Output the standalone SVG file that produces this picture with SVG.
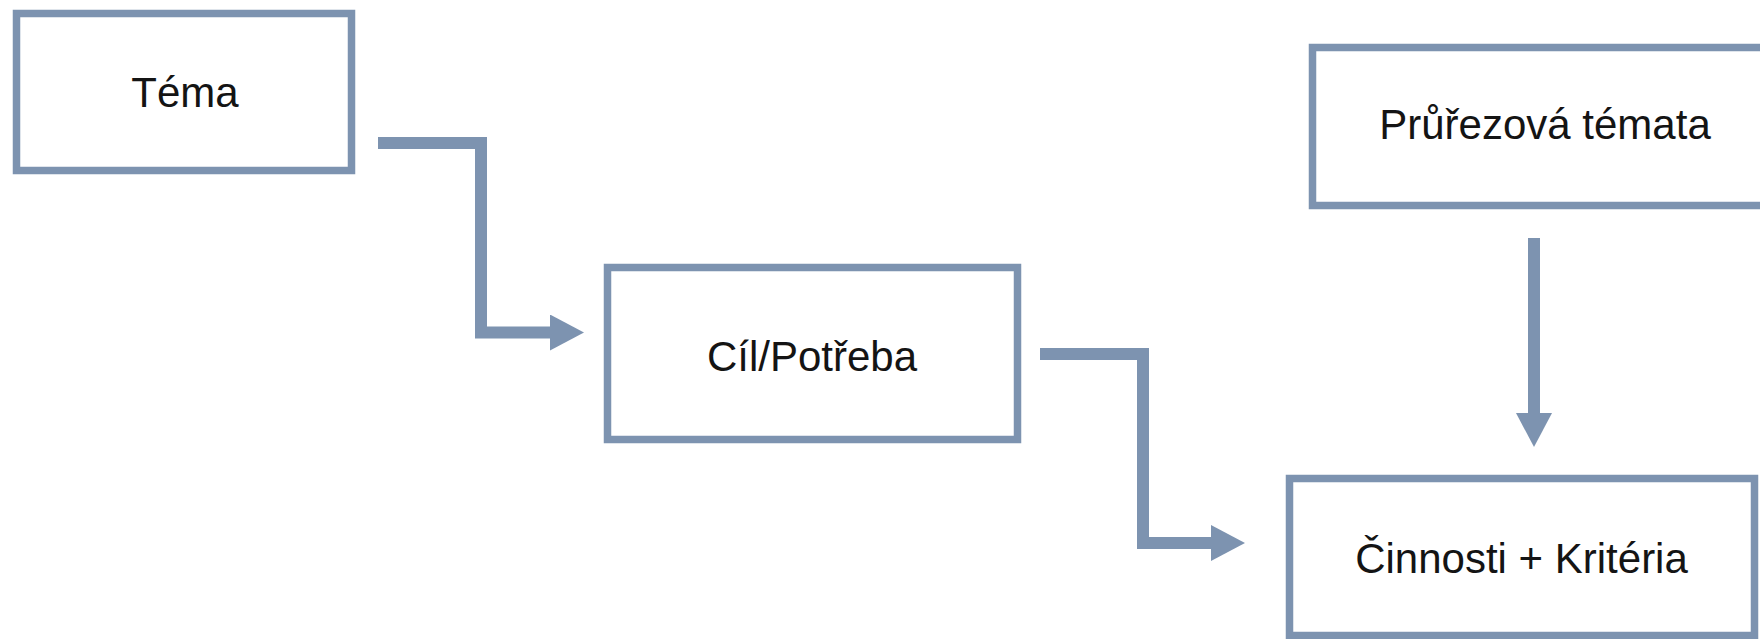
<svg xmlns="http://www.w3.org/2000/svg" width="1760" height="639" viewBox="0 0 1760 639">
  <defs>
    <style>
      .box { fill: #ffffff; stroke: #7d93b0; stroke-width: 7.5; }
      .lbl { font-family: "Liberation Sans", Arial, sans-serif; font-size: 42px; fill: #141414; text-anchor: middle; }
      .conn { fill: none; stroke: #7d93b0; stroke-width: 12; stroke-linejoin: miter; stroke-linecap: butt; }
    </style>
    <marker id="arrow" markerUnits="userSpaceOnUse" markerWidth="35" markerHeight="37" refX="1" refY="18" orient="auto">
      <path d="M0,0 L34,18 L0,36 Z" fill="#7d93b0"/>
    </marker>
  </defs>
  <rect width="1760" height="639" fill="#ffffff"/>

  <g id="node-tema">
    <rect class="box" x="16.5" y="13.5" width="335" height="157"/>
    <text class="lbl" x="185" y="107">Téma</text>
  </g>

  <g id="node-cil">
    <rect class="box" x="607.5" y="267.5" width="410" height="172"/>
    <text class="lbl" x="812" y="371">Cíl/Potřeba</text>
  </g>

  <g id="node-prurezova">
    <rect class="box" x="1312.5" y="47.5" width="465" height="158"/>
    <text class="lbl" x="1545" y="139">Průřezová témata</text>
  </g>

  <g id="node-cinnosti">
    <rect class="box" x="1289.5" y="478.5" width="465" height="157"/>
    <text class="lbl" x="1521.5" y="573">Činnosti + Kritéria</text>
  </g>

  <g id="connectors">
    <path class="conn" d="M378,143 H481 V332.5 H551" marker-end="url(#arrow)"/>
    <path class="conn" d="M1040,354 H1143 V543 H1212" marker-end="url(#arrow)"/>
    <path class="conn" d="M1534,238 V414" marker-end="url(#arrow)"/>
  </g>
</svg>
